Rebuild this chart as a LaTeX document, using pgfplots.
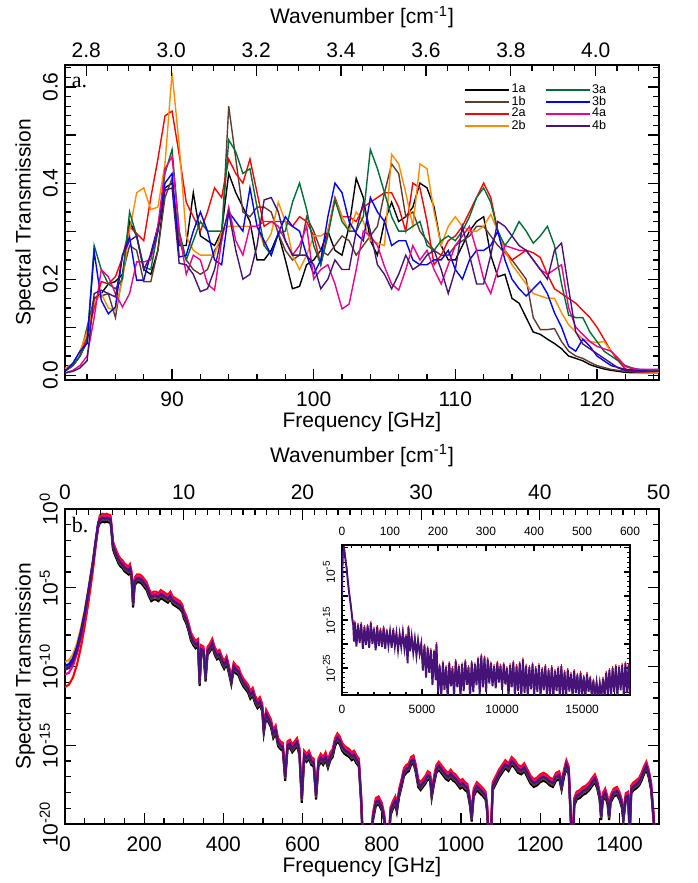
\documentclass[border=0pt]{standalone}
\usepackage{fontspec}
\setmainfont{Liberation Sans}
\newfontfamily\seriffont{Liberation Serif}
\usepackage{pgfplots}
\usepackage{pgfplotstable}
\pgfplotsset{compat=1.18}
\definecolor{cbrown}{RGB}{95,60,50}
\definecolor{corange}{RGB}{255,140,0}
\definecolor{cgreen}{RGB}{0,110,55}
\definecolor{cpurple}{RGB}{70,20,120}
\pgfplotsset{
  myax/.style={
    scale only axis, width=297pt, height=157.5pt,
    axis line style={line width=0.9pt},
    tick style={black, line width=0.6pt},
    major tick length=5.5pt, minor tick length=3pt,
    tick align=inside,
    /pgf/number format/assume math mode=true,
    tick label style={font=\fontsize{10.5}{12}\selectfont},
    label style={font=\fontsize{10.5}{12}\selectfont},
    scaled ticks=false,
  },
}
\begin{document}
% panel a: spectral transmission of the eight filters, columns 1a 1b 2a 2b 3a 3b 4a 4b
\pgfplotstableread{
x     k     b     r     o     g     u     m     p
82    .008  .008  .008  .010  .008  .008  .005  .005
82.5  .010  .010  .010  .015  .010  .010  .005  .005
83    .020  .020  .020  .025  .020  .025  .010  .008
83.5  .040  .040  .040  .050  .040  .050  .020  .015
84    .070  .100  .080  .090  .070  .066  .040  .030
84.5  .160  .160  .140  .150  .270  .257  .120  .170
85    .170  .165  .195  .170  .220  .156  .220  .177
85.5  .190  .170  .190  .140  .190  .128  .205  .170
86    .195  .120  .205  .135  .180  .142  .170  .163
86.5  .210  .210  .245  .200  .200  .250  .142  .250
87    .320  .270  .310  .300  .340  .288  .170  .280
87.5  .290  .260  .295  .380  .290  .198  .236  .290
88    .220  .195  .280  .390  .225  .198  .236  .220
88.5  .210  .195  .370  .345  .220  .254  .240  .250
89    .260  .260  .450  .350  .300  .310  .310  .300
89.5  .390  .370  .540  .440  .420  .400  .430  .385
90    .400  .410  .550  .630  .470  .420  .455  .390
90.5  .270  .280  .460  .480  .300  .246  .300  .233
91    .270  .240  .360  .290  .240  .250  .210  .230
91.5  .380  .220  .330  .260  .280  .300  .250  .210
92    .290  .210  .300  .250  .320  .340  .240  .174
92.5  .280  .220  .340  .250  .300  .300  .190  .180
93    .270  .260  .390  .250  .300  .240  .177  .220
93.5  .300  .280  .370  .300  .300  .230  .280  .290
94    .420  .560  .450  .310  .490  .340  .350  .340
94.5  .380  .450  .420  .310  .465  .320  .280  .260
95    .350  .340  .400  .310  .420  .300  .250  .200
95.5  .320  .330  .450  .310  .430  .390  .310  .210
96    .240  .350  .380  .310  .350  .310  .310  .270
96.5  .240  .350  .310  .270  .270  .280  .320  .365
97    .260  .340  .320  .295  .250  .250  .320  .370
97.5  .295  .295  .320  .360  .295  .295  .310  .340
98    .240  .260  .320  .320  .300  .330  .280  .280
98.5  .180  .240  .310  .250  .360  .310  .250  .250
99    .185  .250  .330  .220  .400  .300  .270  .250
99.5  .230  .330  .320  .250  .345  .250  .310  .250
100   .240  .300  .290  .290  .270  .210  .200  .230
100.5 .260  .260  .230  .290  .230  .240  .220  .180
101   .300  .250  .300  .300  .290  .330  .230  .200
101.5 .260  .270  .370  .365  .365  .400  .190  .240
102   .250  .290  .330  .330  .320  .380  .138  .220
102.5 .310  .280  .330  .300  .300  .320  .148  .220
103   .410  .250  .320  .340  .300  .295  .220  .300
103.5 .370  .270  .350  .320  .330  .280  .300  .360
104   .280  .290  .360  .280  .470  .370  .290  .300
104.5 .250  .310  .370  .275  .430  .340  .270  .230
105   .320  .380  .380  .270  .380  .320  .226  .210
105.5 .360  .440  .380  .460  .330  .270  .190  .180
106   .320  .420  .350  .440  .300  .280  .177  .210
106.5 .330  .330  .300  .380  .300  .280  .220  .250
107   .350  .340  .400  .310  .310  .240  .270  .220
107.5 .400  .300  .390  .440  .320  .230  .240  .230
108   .390  .280  .320  .430  .270  .230  .260  .250
108.5 .350  .260  .230  .340  .260  .240  .220  .260
109   .270  .250  .250  .270  .280  .240  .190  .220
109.5 .240  .250  .280  .310  .290  .260  .230  .170
110   .240  .270  .290  .330  .280  .220  .270  .220
110.5 .270  .280  .310  .310  .300  .200  .290  .310
111   .300  .290  .340  .300  .330  .240  .310  .250
111.5 .320  .310  .370  .300  .370  .260  .260  .190
112   .330  .310  .400  .310  .390  .260  .200  .190
112.5 .250  .290  .370  .335  .360  .270  .170  .250
113   .205  .270  .300  .300  .300  .300  .220  .320
113.5 .210  .255  .260  .260  .270  .240  .270  .310
114   .160  .240  .240  .230  .290  .200  .265  .290
114.5 .150  .220  .250  .210  .320  .180  .260  .270
115   .120  .200  .260  .190  .300  .165  .260  .260
115.5 .090  .120  .255  .170  .275  .180  .240  .240
116   .085  .095  .245  .165  .290  .195  .220  .220
116.5 .075  .095  .210  .160  .310  .170  .210  .200
117   .066  .097  .180  .160  .270  .130  .220  .260
117.5 .055  .070  .170  .130  .190  .100  .230  .275
118   .040  .050  .160  .105  .125  .060  .140  .180
118.5 .035  .040  .150  .090  .120  .050  .100  .090
119   .030  .035  .135  .075  .120  .075  .085  .065
119.5 .022  .027  .120  .070  .090  .060  .070  .055
120   .017  .020  .100  .068  .070  .040  .060  .045
120.5 .013  .016  .075  .070  .050  .030  .055  .035
121   .010  .012  .050  .050  .040  .020  .050  .025
121.5 .008  .010  .030  .035  .030  .016  .035  .015
122   .006  .008  .013  .020  .020  .012  .018  .010
122.5 .005  .007  .009  .012  .015  .011  .014  .009
123   .005  .006  .007  .008  .012  .010  .012  .008
124.5 .005  .006  .006  .006  .010  .012  .012  .008
}\tabA
% panel b: log10 of transmission; k=1a, b=1b, r=2a, m=4a, p=4b
\pgfplotstableread{
f k b r m p
0 -10.1 -10.05 -11.3 -10.5 -10.2
10 -10.0 -9.95 -11.15 -10.4 -10.1
20 -9.6 -9.6 -10.7 -9.95 -9.7
30 -8.9 -8.9 -9.9 -9.2 -9.0
40 -7.9 -7.9 -8.8 -8.2 -8.0
50 -6.6 -6.65 -7.4 -6.9 -6.7
60 -5.1 -5.15 -5.8 -5.3 -5.2
70 -3.5 -3.5 -4.0 -3.6 -3.55
78 -2.1 -2.05 -2.3 -2.05 -2.0
84 -1.15 -1.05 -0.95 -0.95 -0.95
88 -0.90 -0.77 -0.40 -0.53 -0.65
95 -0.80 -0.67 -0.30 -0.43 -0.55
100 -0.85 -0.72 -0.35 -0.48 -0.6
105 -0.80 -0.67 -0.30 -0.43 -0.55
110 -0.85 -0.72 -0.35 -0.48 -0.6
115 -0.90 -0.77 -0.40 -0.53 -0.65
118 -1.65 -1.52 -1.15 -1.28 -1.4
121 -2.55 -2.42 -2.05 -2.18 -2.3
125 -2.85 -2.72 -2.35 -2.48 -2.6
130 -3.15 -3.02 -2.65 -2.78 -2.9
135 -3.45 -3.32 -2.95 -3.08 -3.2
140 -3.65 -3.52 -3.15 -3.28 -3.4
145 -3.75 -3.62 -3.25 -3.38 -3.5
150 -3.95 -3.82 -3.45 -3.58 -3.7
155 -4.05 -3.92 -3.55 -3.68 -3.8
160 -4.15 -4.02 -3.65 -3.78 -3.9
164 -4.00 -3.87 -3.50 -3.63 -3.75
168 -4.45 -4.32 -3.95 -4.08 -4.2
172 -6.25 -6.12 -5.75 -5.88 -6.0
176 -4.85 -4.72 -4.35 -4.48 -4.6
182 -4.65 -4.52 -4.15 -4.28 -4.4
188 -4.65 -4.52 -4.15 -4.28 -4.4
194 -4.75 -4.62 -4.25 -4.38 -4.5
200 -4.95 -4.82 -4.45 -4.58 -4.7
206 -5.15 -5.02 -4.65 -4.78 -4.9
212 -5.55 -5.42 -5.05 -5.18 -5.3
218 -5.85 -5.72 -5.35 -5.48 -5.6
224 -5.75 -5.62 -5.25 -5.38 -5.5
230 -5.75 -5.62 -5.25 -5.38 -5.5
236 -5.85 -5.72 -5.35 -5.48 -5.6
242 -5.65 -5.52 -5.15 -5.28 -5.4
248 -5.75 -5.62 -5.25 -5.38 -5.5
254 -5.85 -5.72 -5.35 -5.48 -5.6
260 -5.95 -5.82 -5.45 -5.58 -5.7
266 -5.75 -5.62 -5.25 -5.38 -5.5
272 -6.05 -5.92 -5.55 -5.68 -5.8
278 -6.15 -6.02 -5.65 -5.78 -5.9
284 -6.25 -6.12 -5.75 -5.88 -6.0
290 -6.35 -6.22 -5.85 -5.98 -6.1
296 -6.55 -6.42 -6.05 -6.18 -6.3
300 -6.95 -6.82 -6.45 -6.58 -6.7
306 -7.25 -7.12 -6.75 -6.88 -7.0
312 -7.75 -7.62 -7.25 -7.38 -7.5
318 -8.35 -8.22 -7.85 -7.98 -8.1
324 -8.65 -8.52 -8.15 -8.28 -8.4
330 -8.85 -8.72 -8.35 -8.48 -8.6
336 -8.75 -8.62 -8.25 -8.38 -8.5
340 -11.25 -11.12 -10.75 -10.88 -11.0
344 -9.15 -9.02 -8.65 -8.78 -8.9
350 -9.25 -9.12 -8.75 -8.88 -9.0
355 -10.95 -10.82 -10.45 -10.58 -10.7
360 -9.25 -9.12 -8.75 -8.88 -9.0
366 -9.05 -8.92 -8.55 -8.68 -8.8
372 -8.75 -8.62 -8.25 -8.38 -8.5
378 -9.25 -9.12 -8.75 -8.88 -9.0
384 -9.55 -9.42 -9.05 -9.18 -9.3
390 -9.45 -9.32 -8.95 -9.08 -9.2
396 -9.85 -9.72 -9.35 -9.48 -9.6
402 -10.15 -10.02 -9.65 -9.78 -9.9
408 -9.85 -9.72 -9.35 -9.48 -9.6
414 -10.45 -10.32 -9.95 -10.08 -10.2
420 -11.15 -11.02 -10.65 -10.78 -10.9
426 -10.25 -10.12 -9.75 -9.88 -10.0
432 -10.45 -10.32 -9.95 -10.08 -10.2
438 -10.55 -10.42 -10.05 -10.18 -10.3
444 -10.95 -10.82 -10.45 -10.58 -10.7
450 -11.25 -11.12 -10.75 -10.88 -11.0
456 -11.45 -11.32 -10.95 -11.08 -11.2
462 -11.65 -11.52 -11.15 -11.28 -11.4
468 -12.05 -11.92 -11.55 -11.68 -11.8
474 -11.85 -11.72 -11.35 -11.48 -11.6
480 -12.35 -12.22 -11.85 -11.98 -12.1
486 -12.65 -12.52 -12.15 -12.28 -12.4
492 -12.45 -12.32 -11.95 -12.08 -12.2
498 -12.85 -12.72 -12.35 -12.48 -12.6
502 -14.25 -14.12 -13.75 -13.88 -14.0
508 -13.25 -13.12 -12.75 -12.88 -13.0
514 -13.55 -13.42 -13.05 -13.18 -13.3
520 -13.85 -13.72 -13.35 -13.48 -13.6
526 -14.55 -14.42 -14.05 -14.18 -14.3
532 -14.25 -14.12 -13.75 -13.88 -14.0
538 -15.05 -14.92 -14.55 -14.68 -14.8
544 -15.25 -15.12 -14.75 -14.88 -15.0
550 -15.35 -15.22 -14.85 -14.98 -15.1
556 -17.25 -17.12 -16.75 -16.88 -17.0
562 -15.25 -15.12 -14.75 -14.88 -15.0
568 -15.15 -15.02 -14.65 -14.78 -14.9
574 -15.45 -15.32 -14.95 -15.08 -15.2
580 -15.25 -15.12 -14.75 -14.88 -15.0
586 -15.05 -14.92 -14.55 -14.68 -14.8
592 -15.65 -15.52 -15.15 -15.28 -15.4
598 -18.65 -18.52 -18.15 -18.28 -18.4
604 -15.85 -15.72 -15.35 -15.48 -15.6
610 -16.05 -15.92 -15.55 -15.68 -15.8
616 -15.85 -15.72 -15.35 -15.48 -15.6
622 -16.25 -16.12 -15.75 -15.88 -16.0
628 -16.35 -16.22 -15.85 -15.98 -16.1
634 -18.45 -18.32 -17.95 -18.08 -18.2
640 -16.35 -16.22 -15.85 -15.98 -16.1
646 -16.05 -15.92 -15.55 -15.68 -15.8
652 -16.25 -16.12 -15.75 -15.88 -16.0
658 -15.95 -15.82 -15.45 -15.58 -15.7
664 -16.45 -16.32 -15.95 -16.08 -16.2
670 -15.95 -15.82 -15.45 -15.58 -15.7
676 -15.75 -15.62 -15.25 -15.38 -15.5
682 -15.05 -14.92 -14.55 -14.68 -14.8
688 -14.75 -14.62 -14.25 -14.38 -14.5
694 -14.95 -14.82 -14.45 -14.58 -14.7
700 -15.35 -15.22 -14.85 -14.98 -15.1
706 -15.55 -15.42 -15.05 -15.18 -15.3
712 -15.65 -15.52 -15.15 -15.28 -15.4
718 -15.75 -15.62 -15.25 -15.38 -15.5
724 -15.95 -15.82 -15.45 -15.58 -15.7
730 -15.85 -15.72 -15.35 -15.48 -15.6
736 -16.15 -16.02 -15.65 -15.78 -15.9
742 -16.35 -16.22 -15.85 -15.98 -16.1
748 -18.75 -18.62 -18.25 -18.38 -18.5
752 -21.25 -21.12 -20.75 -20.88 -21.0
760 -22.25 -22.12 -21.75 -21.88 -22.0
770 -21.75 -21.62 -21.25 -21.38 -21.5
778 -19.75 -19.62 -19.25 -19.38 -19.5
785 -18.85 -18.72 -18.35 -18.48 -18.6
792 -18.75 -18.62 -18.25 -18.38 -18.5
800 -19.15 -19.02 -18.65 -18.78 -18.9
806 -19.85 -19.72 -19.35 -19.48 -19.6
812 -21.25 -21.12 -20.75 -20.88 -21.0
818 -21.25 -21.12 -20.75 -20.88 -21.0
822 -19.45 -19.32 -18.95 -19.08 -19.2
828 -19.05 -18.92 -18.55 -18.68 -18.8
834 -18.75 -18.62 -18.25 -18.38 -18.5
838 -19.25 -19.12 -18.75 -18.88 -19.0
844 -18.25 -18.12 -17.75 -17.88 -18.0
850 -17.65 -17.52 -17.15 -17.28 -17.4
856 -16.95 -16.82 -16.45 -16.58 -16.7
862 -16.75 -16.62 -16.25 -16.38 -16.5
868 -16.65 -16.52 -16.15 -16.28 -16.4
874 -16.25 -16.12 -15.75 -15.88 -16.0
880 -16.15 -16.02 -15.65 -15.78 -15.9
886 -16.75 -16.62 -16.25 -16.38 -16.5
892 -17.65 -17.52 -17.15 -17.28 -17.4
898 -17.85 -17.72 -17.35 -17.48 -17.6
904 -17.65 -17.52 -17.15 -17.28 -17.4
910 -17.45 -17.32 -16.95 -17.08 -17.2
916 -17.15 -17.02 -16.65 -16.78 -16.9
922 -17.25 -17.12 -16.75 -16.88 -17.0
926 -18.35 -18.22 -17.85 -17.98 -18.1
932 -17.45 -17.32 -16.95 -17.08 -17.2
938 -16.75 -16.62 -16.25 -16.38 -16.5
944 -16.55 -16.42 -16.05 -16.18 -16.3
950 -16.75 -16.62 -16.25 -16.38 -16.5
956 -16.95 -16.82 -16.45 -16.58 -16.7
962 -17.15 -17.02 -16.65 -16.78 -16.9
968 -17.25 -17.12 -16.75 -16.88 -17.0
974 -17.05 -16.92 -16.55 -16.68 -16.8
980 -17.25 -17.12 -16.75 -16.88 -17.0
986 -17.35 -17.22 -16.85 -16.98 -17.1
992 -17.55 -17.42 -17.05 -17.18 -17.3
998 -17.75 -17.62 -17.25 -17.38 -17.5
1004 -17.65 -17.52 -17.15 -17.28 -17.4
1010 -17.85 -17.72 -17.35 -17.48 -17.6
1016 -17.95 -17.82 -17.45 -17.58 -17.7
1022 -18.75 -18.62 -18.25 -18.38 -18.5
1027 -19.85 -19.72 -19.35 -19.48 -19.6
1032 -18.25 -18.12 -17.75 -17.88 -18.0
1040 -17.85 -17.72 -17.35 -17.48 -17.6
1048 -18.05 -17.92 -17.55 -17.68 -17.8
1056 -18.25 -18.12 -17.75 -17.88 -18.0
1062 -18.45 -18.32 -17.95 -18.08 -18.2
1066 -19.25 -19.12 -18.75 -18.88 -19.0
1070 -21.25 -21.12 -20.75 -20.88 -21.0
1076 -20.75 -20.62 -20.25 -20.38 -20.5
1080 -17.85 -17.72 -17.35 -17.48 -17.6
1088 -17.45 -17.32 -16.95 -17.08 -17.2
1096 -17.05 -16.92 -16.55 -16.68 -16.8
1104 -16.75 -16.62 -16.25 -16.38 -16.5
1112 -16.45 -16.32 -15.95 -16.08 -16.2
1120 -16.65 -16.52 -16.15 -16.28 -16.4
1128 -16.25 -16.12 -15.75 -15.88 -16.0
1136 -16.45 -16.32 -15.95 -16.08 -16.2
1144 -16.75 -16.62 -16.25 -16.38 -16.5
1152 -16.85 -16.72 -16.35 -16.48 -16.6
1160 -16.65 -16.52 -16.15 -16.28 -16.4
1168 -17.05 -16.92 -16.55 -16.68 -16.8
1176 -17.45 -17.32 -16.95 -17.08 -17.2
1184 -17.65 -17.52 -17.15 -17.28 -17.4
1192 -17.55 -17.42 -17.05 -17.18 -17.3
1200 -17.35 -17.22 -16.85 -16.98 -17.1
1208 -17.25 -17.12 -16.75 -16.88 -17.0
1216 -17.35 -17.22 -16.85 -16.98 -17.1
1224 -17.55 -17.42 -17.05 -17.18 -17.3
1232 -17.65 -17.52 -17.15 -17.28 -17.4
1240 -17.25 -17.12 -16.75 -16.88 -17.0
1248 -17.15 -17.02 -16.65 -16.78 -16.9
1254 -17.85 -17.72 -17.35 -17.48 -17.6
1260 -17.05 -16.92 -16.55 -16.68 -16.8
1266 -16.45 -16.32 -15.95 -16.08 -16.2
1272 -16.85 -16.72 -16.35 -16.48 -16.6
1278 -20.25 -20.12 -19.75 -19.88 -20.0
1282 -22.25 -22.12 -21.75 -21.88 -22.0
1286 -18.85 -18.72 -18.35 -18.48 -18.6
1292 -18.45 -18.32 -17.95 -18.08 -18.2
1300 -18.35 -18.22 -17.85 -17.98 -18.1
1308 -18.15 -18.02 -17.65 -17.78 -17.9
1316 -18.05 -17.92 -17.55 -17.68 -17.8
1324 -17.85 -17.72 -17.35 -17.48 -17.6
1332 -17.55 -17.42 -17.05 -17.18 -17.3
1338 -17.35 -17.22 -16.85 -16.98 -17.1
1344 -17.75 -17.62 -17.25 -17.38 -17.5
1350 -18.45 -18.32 -17.95 -18.08 -18.2
1354 -19.75 -19.62 -19.25 -19.38 -19.5
1358 -18.55 -18.42 -18.05 -18.18 -18.3
1364 -18.25 -18.12 -17.75 -17.88 -18.0
1370 -18.75 -18.62 -18.25 -18.38 -18.5
1374 -19.75 -19.62 -19.25 -19.38 -19.5
1378 -18.65 -18.52 -18.15 -18.28 -18.4
1386 -18.25 -18.12 -17.75 -17.88 -18.0
1394 -18.15 -18.02 -17.65 -17.78 -17.9
1400 -18.45 -18.32 -17.95 -18.08 -18.2
1406 -18.95 -18.82 -18.45 -18.58 -18.7
1410 -19.85 -19.72 -19.35 -19.48 -19.6
1416 -18.55 -18.42 -18.05 -18.18 -18.3
1422 -18.45 -18.32 -17.95 -18.08 -18.2
1426 -20.75 -20.62 -20.25 -20.38 -20.5
1430 -18.05 -17.92 -17.55 -17.68 -17.8
1436 -17.85 -17.72 -17.35 -17.48 -17.6
1442 -17.75 -17.62 -17.25 -17.38 -17.5
1450 -17.55 -17.42 -17.05 -17.18 -17.3
1456 -17.25 -17.12 -16.75 -16.88 -17.0
1462 -16.85 -16.72 -16.35 -16.48 -16.6
1468 -16.55 -16.42 -16.05 -16.18 -16.3
1474 -17.05 -16.92 -16.55 -16.68 -16.8
1480 -17.85 -17.72 -17.35 -17.48 -17.6
1486 -19.75 -19.62 -19.25 -19.38 -19.5
1490 -21.25 -21.12 -20.75 -20.88 -21.0
1500 -22.25 -22.12 -21.75 -21.88 -22.0
}\tabB
% panel b, low-frequency part of 2b 3a 3b
\pgfplotstableread{
f o g u
0 -9.7 -10.0 -9.95
10 -9.6 -9.9 -9.85
20 -9.25 -9.55 -9.5
30 -8.6 -8.85 -8.8
40 -7.6 -7.85 -7.8
50 -6.4 -6.6 -6.55
60 -4.9 -5.1 -5.05
70 -3.3 -3.5 -3.45
78 -1.9 -2.0 -1.9
84 -0.85 -0.9 -0.85
88 -0.65 -0.65 -0.65
95 -0.55 -0.55 -0.55
100 -0.6 -0.6 -0.6
105 -0.55 -0.55 -0.55
110 -0.6 -0.6 -0.6
115 -0.65 -0.65 -0.65
118 -1.4 -1.4 -1.4
121 -2.3 -2.3 -2.3
}\tabBlow
% inset: log10 transmission up to 600 cm-1
\pgfplotstableread{
f p r
0 -10.2 -9.8
30 -4.0 -3.6
60 -0.5 -0.1
100 0.3 0.7
140 -0.3 0.1
180 -1.5 -1.1
220 -2.5 -2.1
260 -3.6 -3.2
300 -4.5 -4.1
350 -6.5 -6.1
400 -8.0 -7.6
450 -9.5 -9.1
500 -10.8 -10.4
550 -12.0 -11.6
600 -13.5 -13.1
650 -15.0 -14.6
700 -16.0 -15.6
750 -19.5 -19.1
800 -15.5 -15.1
900 -20.5 -20.1
1000 -16.0 -15.6
1100 -19.8 -19.4
1200 -15.8 -15.4
1300 -21.0 -20.6
1400 -16.5 -16.1
1500 -20.2 -19.8
1600 -16.2 -15.8
1700 -20.8 -20.4
1800 -15.6 -15.2
1900 -20.0 -19.6
2000 -16.8 -16.4
2100 -21.3 -20.9
2200 -16.4 -16.0
2300 -20.4 -20.0
2400 -17.0 -16.6
2500 -20.6 -20.2
2600 -16.6 -16.2
2700 -21.0 -20.6
2800 -17.2 -16.8
2900 -20.3 -19.9
3000 -17.5 -17.1
3100 -20.8 -20.4
3200 -17.0 -16.6
3300 -20.5 -20.1
3400 -17.8 -17.4
3500 -21.2 -20.8
3600 -18.0 -17.6
3700 -20.6 -20.2
3800 -17.6 -17.2
3900 -21.0 -20.6
4000 -18.3 -17.9
4100 -24.0 -23.6
4150 -16.5 -16.1
4250 -21.5 -21.1
4350 -18.5 -18.1
4450 -21.8 -21.4
4550 -19.0 -18.6
4650 -22.4 -22.0
4750 -19.3 -18.9
4850 -22.0 -21.6
4950 -20.0 -19.6
5050 -25.5 -25.1
5150 -20.3 -19.9
5250 -27.0 -26.6
5350 -20.8 -20.4
5450 -26.0 -25.6
5550 -21.2 -20.8
5650 -28.5 -28.1
5750 -21.5 -21.1
5850 -27.5 -27.1
5900 -20.0 -19.6
6000 -30.0 -29.6
6100 -24.5 -24.1
6200 -31.0 -30.6
6300 -23.8 -23.4
6400 -29.5 -29.1
6500 -24.8 -24.4
6600 -31.0 -30.6
6700 -24.0 -23.6
6800 -28.8 -28.4
6900 -25.0 -24.6
7000 -31.0 -30.6
7100 -23.5 -23.1
7200 -29.0 -28.6
7300 -24.6 -24.2
7400 -31.0 -30.6
7500 -24.2 -23.8
7600 -29.8 -29.4
7700 -23.6 -23.2
7800 -28.5 -28.1
7900 -24.8 -24.4
8000 -31.0 -30.6
8100 -23.8 -23.4
8200 -30.0 -29.6
8300 -24.2 -23.8
8400 -28.6 -28.2
8500 -23.0 -22.6
8600 -30.5 -30.1
8700 -22.4 -22.0
8800 -29.0 -28.6
8900 -22.8 -22.4
9000 -30.0 -29.6
9100 -23.2 -22.8
9200 -28.2 -27.8
9300 -24.0 -23.6
9400 -28.8 -28.4
9500 -24.6 -24.2
9600 -29.2 -28.8
9700 -23.9 -23.5
9800 -28.0 -27.6
9900 -24.5 -24.1
10000 -29.5 -29.1
10100 -24.2 -23.8
10200 -28.4 -28.0
10300 -25.0 -24.6
10400 -31.0 -30.6
10500 -24.4 -24.0
10600 -29.0 -28.6
10700 -23.8 -23.4
10800 -31.0 -30.6
10900 -24.6 -24.2
11000 -29.8 -29.4
11100 -24.0 -23.6
11200 -31.0 -30.6
11300 -23.2 -22.8
11400 -30.2 -29.8
11500 -24.5 -24.1
11600 -31.0 -30.6
11700 -24.8 -24.4
11800 -29.4 -29.0
11900 -24.2 -23.8
12000 -31.0 -30.6
12100 -25.0 -24.6
12200 -30.0 -29.6
12300 -24.4 -24.0
12400 -31.0 -30.6
12500 -25.2 -24.8
12600 -29.6 -29.2
12700 -24.6 -24.2
12800 -31.0 -30.6
12900 -25.4 -25.0
13000 -30.4 -30.0
13100 -24.8 -24.4
13200 -31.0 -30.6
13300 -25.6 -25.2
13400 -29.8 -29.4
13500 -25.0 -24.6
13600 -31.0 -30.6
13700 -24.6 -24.2
13800 -30.5 -30.1
13900 -25.8 -25.4
14000 -31.0 -30.6
14100 -25.4 -25.0
14200 -29.9 -29.5
14300 -26.2 -25.8
14400 -31.0 -30.6
14500 -25.6 -25.2
14600 -30.2 -29.8
14700 -26.4 -26.0
14800 -31.0 -30.6
14900 -26.0 -25.6
15000 -30.6 -30.2
15100 -26.8 -26.4
15200 -31.0 -30.6
15300 -26.2 -25.8
15400 -30.0 -29.6
15500 -27.0 -26.6
15600 -31.0 -30.6
15700 -27.6 -27.2
15800 -31.0 -30.6
15900 -28.0 -27.6
16000 -31.0 -30.6
16100 -28.2 -27.8
16200 -31.0 -30.6
16300 -27.2 -26.8
16400 -31.0 -30.6
16500 -26.0 -25.6
16600 -30.4 -30.0
16700 -25.4 -25.0
16800 -31.0 -30.6
16900 -25.0 -24.6
17000 -30.0 -29.6
17100 -24.6 -24.2
17200 -31.0 -30.6
17300 -24.8 -24.4
17400 -29.6 -29.2
17500 -24.4 -24.0
17600 -31.0 -30.6
17700 -24.0 -23.6
17800 -30.2 -29.8
17900 -24.4 -24.0
17987 -31.0 -30.6
}\tabC
\begin{tikzpicture}
\path[use as bounding box] (-32.5pt,-29.5pt) rectangle (316pt,412pt);
%%%%%%%%%%%%%%%% panel a
\begin{axis}[myax, at={(0,222pt)}, anchor=south west,
  xmin=82.44, xmax=124.38, ymin=-0.01, ymax=0.646,
  xtick={90,100,110,120}, xticklabels={90,100,110,120},
  minor xtick={84,86,...,124}, xtick pos=left,
  xticklabel style={yshift=-2.5pt},
  ytick={0,0.1,0.2,0.3,0.4,0.5,0.6}, yticklabels={0.0,,0.2,,0.4,,0.6},
  minor ytick={0.02,0.04,...,0.64},
  yticklabel style={rotate=90, anchor=south},
  xlabel={Frequency [GHz]}, ylabel={Spectral Transmission},
  xlabel style={at={(axis description cs:0.5,-0.133)}, anchor=center},
  ylabel style={at={(axis description cs:-0.067,0.5)}, anchor=center},
  legend columns=2, legend cell align=left,
  legend style={at={(0.662,0.958)}, anchor=north west, draw=none, fill=none,
    font=\fontsize{6.3}{6.3}\selectfont, row sep=-1.6pt,
    nodes={inner sep=0.8pt},
    /tikz/every even column/.append style={column sep=9pt}},
  legend image code/.code={\draw[#1, line width=0.7pt] (0pt,0pt) -- (22pt,0pt);},
  every axis plot/.append style={line width=0.7pt},
]
\addplot[black, forget plot] table[x=x,y=k]{\tabA};
\addplot[cbrown, forget plot] table[x=x,y=b]{\tabA};
\addplot[red, forget plot] table[x=x,y=r]{\tabA};
\addplot[corange, forget plot] table[x=x,y=o]{\tabA};
\addplot[cgreen, forget plot] table[x=x,y=g]{\tabA};
\addplot[blue, forget plot] table[x=x,y=u]{\tabA};
\addplot[magenta, forget plot] table[x=x,y=m]{\tabA};
\addplot[cpurple, forget plot] table[x=x,y=p]{\tabA};
\addlegendimage{black}\addlegendentry{1a}
\addlegendimage{cgreen}\addlegendentry{3a}
\addlegendimage{cbrown}\addlegendentry{1b}
\addlegendimage{blue}\addlegendentry{3b}
\addlegendimage{red}\addlegendentry{2a}
\addlegendimage{magenta}\addlegendentry{4a}
\addlegendimage{corange}\addlegendentry{2b}
\addlegendimage{cpurple}\addlegendentry{4b}
\node[font=\seriffont\fontsize{11}{12}\selectfont, anchor=base west, inner sep=0pt] at (rel axis cs:0.011,0.927) {a.};
\end{axis}
\begin{axis}[myax, at={(0,222pt)}, anchor=south west,
  xmin=2.7499, xmax=4.1489, ymin=-0.01, ymax=0.646,
  axis x line*=top, hide y axis,
  xtick={2.8,3.0,3.2,3.4,3.6,3.8,4.0}, xticklabels={2.8,3.0,3.2,3.4,3.6,3.8,4.0},
  minor xtick={2.75,2.85,2.9,2.95,3.05,3.1,3.15,3.25,3.3,3.35,3.45,3.5,3.55,3.65,3.7,3.75,3.85,3.9,3.95,4.05,4.1},
  xlabel={Wavenumber [cm\textsuperscript{-1}]},
  xlabel style={at={(axis description cs:0.5,1.152)}, anchor=center},
]
\end{axis}
%%%%%%%%%%%%%%%% panel b
\begin{axis}[myax, at={(0,0)}, anchor=south west,
  xmin=0, xmax=1500, ymin=-20, ymax=0,
  xtick={0,200,400,600,800,1000,1200,1400}, xticklabels={0,200,400,600,800,1000,1200,1400},
  minor xtick={50,100,...,1500}, xtick pos=left,
  xticklabel style={yshift=-3pt},
  ytick={-20,-15,-10,-5,0},
  yticklabels={10\textsuperscript{-20},10\textsuperscript{-15},10\textsuperscript{-10},10\textsuperscript{-5},10\textsuperscript{0}},
  minor ytick={-19,-18,...,-1},
  yticklabel style={rotate=90, anchor=south},
  xlabel={Frequency [GHz]}, ylabel={Spectral Transmission},
  xlabel style={at={(axis description cs:0.5,-0.137)}, anchor=center},
  ylabel style={at={(axis description cs:-0.067,0.5)}, anchor=center},
  every axis plot/.append style={line width=1.05pt},
]
\addplot[black] table[x=f,y=k]{\tabB};
\addplot[cbrown] table[x=f,y=b]{\tabB};
\addplot[red] table[x=f,y=r]{\tabB};
\addplot[corange] table[x=f,y=o]{\tabBlow};
\addplot[cgreen] table[x=f,y=g]{\tabBlow};
\addplot[blue] table[x=f,y=u]{\tabBlow};
\addplot[magenta] table[x=f,y=m]{\tabB};
\addplot[cpurple] table[x=f,y=p]{\tabB};
\node[font=\seriffont\fontsize{11}{12}\selectfont, anchor=base west, inner sep=0pt] at (rel axis cs:0.011,0.924) {b.};
\end{axis}
\begin{axis}[myax, at={(0,0)}, anchor=south west,
  xmin=0, xmax=50.035, ymin=-20, ymax=0,
  axis x line*=top, hide y axis,
  xtick={0,10,20,30,40,50}, xticklabels={0,10,20,30,40,50},
  minor xtick={1,2,...,49},
  xticklabel style={yshift=1pt},
  xlabel={Wavenumber [cm\textsuperscript{-1}]},
  xlabel style={at={(axis description cs:0.5,1.168)}, anchor=center},
]
\end{axis}
%%%%%%%%%%%%%%%% inset
\begin{axis}[myax, at={(138.5pt,64.5pt)}, anchor=south west, width=144pt, height=75pt,
  axis background/.style={fill=white},
  axis line style={line width=0.7pt},
  major tick length=3pt, minor tick length=1.6pt,
  tick label style={font=\fontsize{6}{7}\selectfont},
  xmin=0, xmax=17987, ymin=-30.6, ymax=0.6,
  xtick={0,5000,10000,15000}, xticklabels={0,5000,10000,15000},
  minor xtick={1000,2000,3000,4000,6000,7000,8000,9000,11000,12000,13000,14000,16000,17000},
  xtick pos=left, xticklabel style={yshift=-1.5pt},
  ytick={-30,-25,-20,-15,-10,-5,0},
  yticklabels={,10\textsuperscript{-25},,10\textsuperscript{-15},,10\textsuperscript{-5},},
  minor ytick={-29,-28,...,0},
  yticklabel style={rotate=90, anchor=south},
]
\addplot[red, line width=0.5pt] table[x=f,y=r]{\tabC};
\addplot[cpurple, line width=0.95pt] table[x=f,y=p]{\tabC};
\end{axis}
\begin{axis}[myax, at={(138.5pt,64.5pt)}, anchor=south west, width=144pt, height=75pt,
  axis line style={line width=0.7pt},
  major tick length=3pt, minor tick length=1.6pt,
  tick label style={font=\fontsize{6}{7}\selectfont},
  xmin=0, xmax=599.98, ymin=-30.6, ymax=0.6,
  axis x line*=top, hide y axis,
  xtick={0,100,...,600}, xticklabels={0,100,200,300,400,500,600},
  minor xtick={20,40,...,580},
  xticklabel style={yshift=1pt},
]
\end{axis}
\end{tikzpicture}
\end{document}
